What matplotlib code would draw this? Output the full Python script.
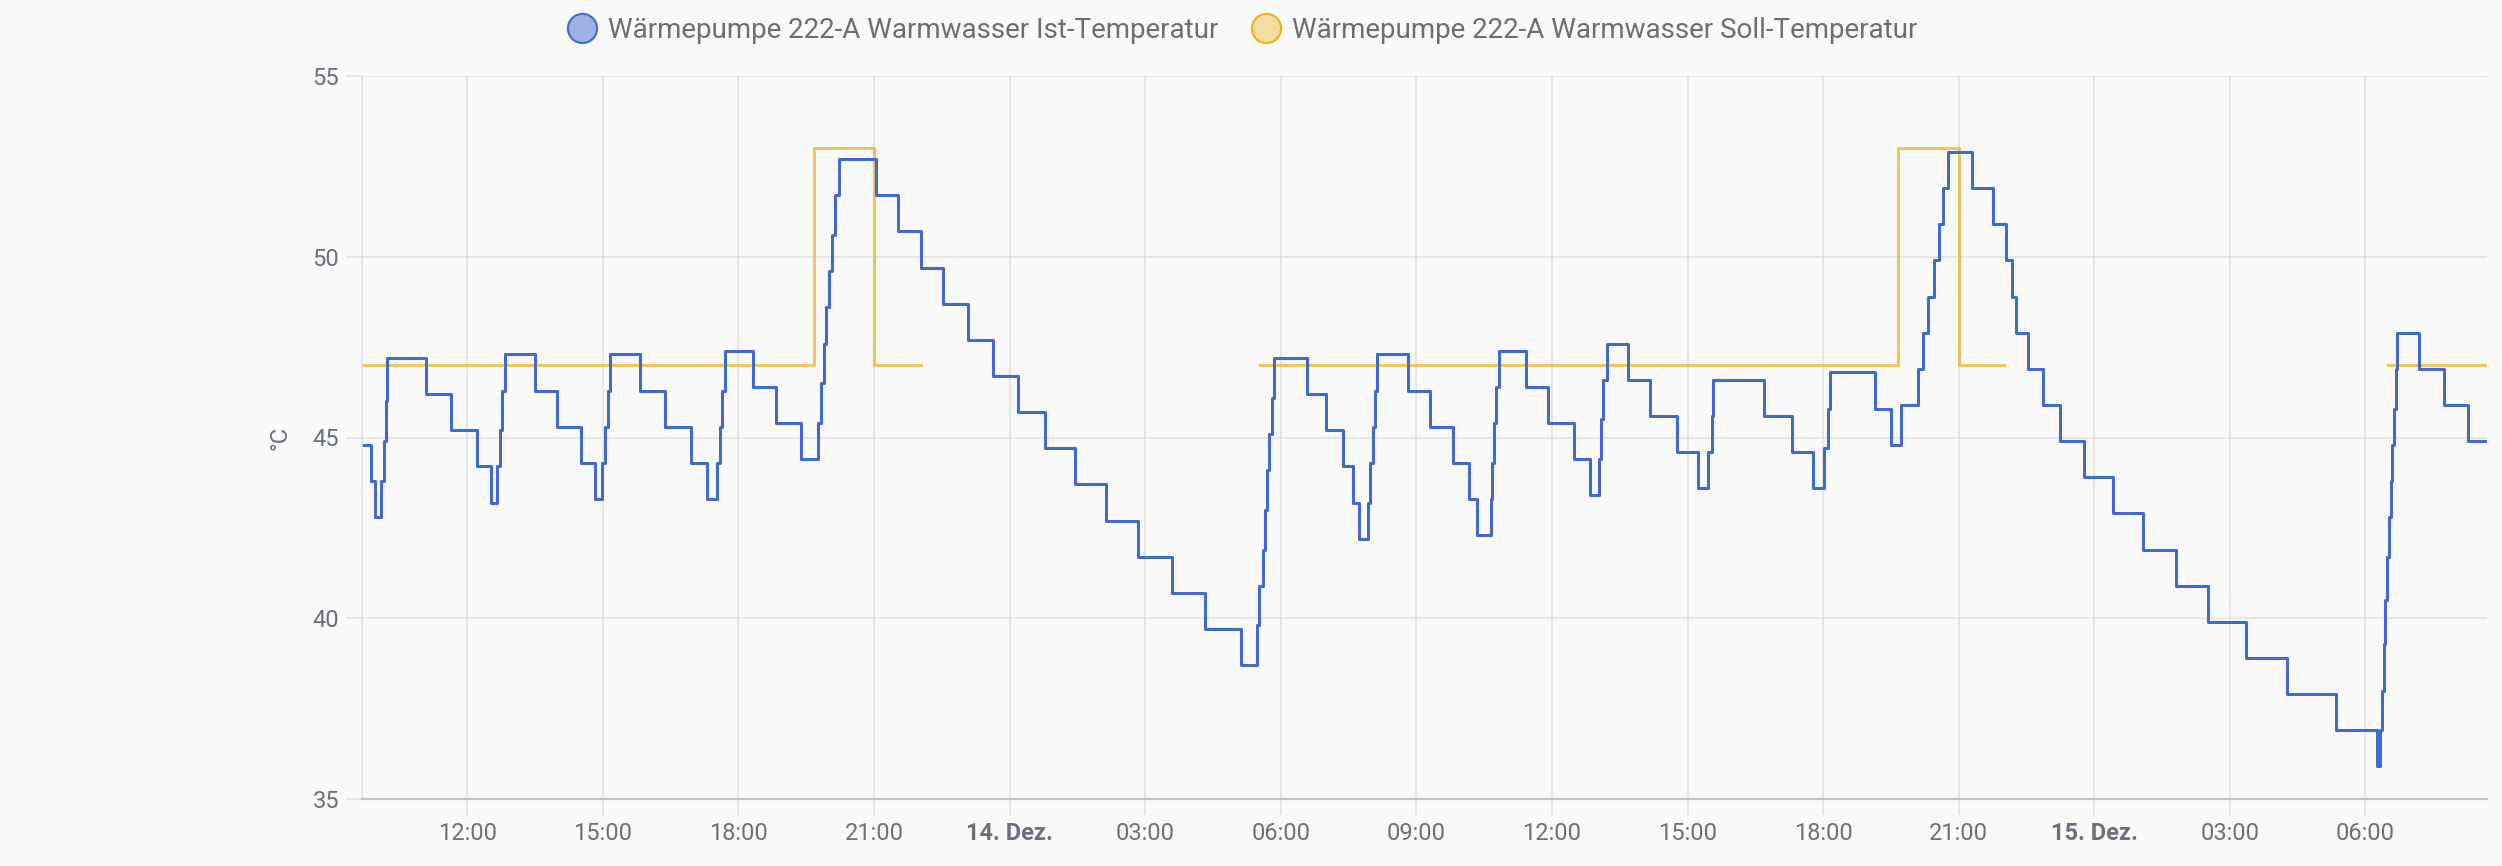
import numpy as np
import matplotlib.pyplot as plt
from matplotlib.lines import Line2D

plt.rcParams['font.family'] = ['Roboto', 'DejaVu Sans']

# hours counted from 13. Dez. 00:00
ist_hours = [9.67, 9.875, 9.948, 10.096, 10.155, 10.192, 10.221, 11.092, 11.631, 12.214,
             12.517, 12.664, 12.723, 12.768, 12.827, 13.498, 13.978, 14.509, 14.834, 14.989,
             15.048, 15.107, 15.166, 15.830, 16.369, 16.945, 17.314, 17.528, 17.587, 17.646,
             17.697, 18.325, 18.841, 19.387, 19.764, 19.823, 19.890, 19.941, 19.993, 20.059,
             20.133, 20.221, 21.048, 21.535, 22.037, 22.524, 23.070, 23.638, 24.185, 24.782,
             25.446, 26.140, 26.849, 27.594, 28.317, 29.114, 29.483, 29.528, 29.601, 29.653,
             29.705, 29.749, 29.801, 29.860, 30.590, 30.996, 31.380, 31.587, 31.720, 31.919,
             31.978, 32.030, 32.081, 32.126, 32.812, 33.300, 33.815, 34.162, 34.347, 34.642,
             34.679, 34.716, 34.768, 34.827, 35.432, 35.911, 36.487, 36.849, 37.048, 37.092,
             37.137, 37.210, 37.690, 38.177, 38.775, 39.232, 39.461, 39.535, 39.572, 40.694,
             41.306, 41.771, 42.030, 42.118, 42.162, 43.140, 43.509, 43.716, 44.100, 44.210,
             44.321, 44.454, 44.572, 44.653, 44.756, 45.303, 45.768, 46.055, 46.173, 46.269,
             46.535, 46.860, 47.236, 47.782, 48.414, 49.071, 49.803, 50.520, 51.362, 52.264,
             53.342, 54.260, 54.330, 54.362, 54.413, 54.435, 54.487, 54.524, 54.561, 54.583,
             54.635, 54.679, 54.694, 55.181, 55.734, 56.266, 56.690]
ist_values = [44.8, 43.8, 42.8, 43.8, 44.9, 46.0, 47.2, 46.2, 45.2, 44.2,
              43.2, 44.2, 45.2, 46.3, 47.3, 46.3, 45.3, 44.3, 43.3, 44.3,
              45.3, 46.3, 47.3, 46.3, 45.3, 44.3, 43.3, 44.3, 45.3, 46.3,
              47.4, 46.4, 45.4, 44.4, 45.4, 46.5, 47.6, 48.6, 49.6, 50.6,
              51.7, 52.7, 51.7, 50.7, 49.7, 48.7, 47.7, 46.7, 45.7, 44.7,
              43.7, 42.7, 41.7, 40.7, 39.7, 38.7, 39.8, 40.9, 41.9, 43.0,
              44.1, 45.1, 46.1, 47.2, 46.2, 45.2, 44.2, 43.2, 42.2, 43.2,
              44.3, 45.3, 46.3, 47.3, 46.3, 45.3, 44.3, 43.3, 42.3, 43.3,
              44.3, 45.4, 46.4, 47.4, 46.4, 45.4, 44.4, 43.4, 44.4, 45.5,
              46.6, 47.6, 46.6, 45.6, 44.6, 43.6, 44.6, 45.6, 46.6, 45.6,
              44.6, 43.6, 44.7, 45.8, 46.8, 45.8, 44.8, 45.9, 46.9, 47.9,
              48.9, 49.9, 50.9, 51.9, 52.9, 51.9, 50.9, 49.9, 48.9, 47.9,
              46.9, 45.9, 44.9, 43.9, 42.9, 41.9, 40.9, 39.9, 38.9, 37.9,
              36.9, 35.9, 36.9, 38.0, 39.3, 40.5, 41.7, 42.8, 43.8, 44.8,
              45.8, 46.9, 47.9, 46.9, 45.9, 44.9, 44.9]

soll_hours = [9.67, 19.67, 21.01, 22.03, 29.535, 43.66, 45.01, 46.01, 54.51, 56.69]
soll_values = [47, 53, 47, np.nan, 47, 53, 47, np.nan, 47, 47]

tick_hours = [12, 15, 18, 21, 24, 27, 30, 33, 36, 39, 42, 45, 48, 51, 54]
tick_labels = ['12:00', '15:00', '18:00', '21:00', '14. Dez.', '03:00', '06:00', '09:00',
               '12:00', '15:00', '18:00', '21:00', '15. Dez.', '03:00', '06:00']

ist_color = '#4269d0'
soll_color = '#efb118'
text_color = '#6e7079'
grid_color = '#e0e0e0'

fig = plt.figure(figsize=(25.02, 8.66), dpi=100, facecolor='#fafafa')
ax = fig.add_axes([362 / 2502, 1 - 799 / 866, (2487 - 362) / 2502, (799 - 76) / 866])
ax.set_facecolor('#fafafa')

# Soll first so the Ist line sits on top
ax.plot(soll_hours, soll_values, drawstyle='steps-post', color=soll_color, alpha=0.7, lw=2.2)
ax.plot(ist_hours, ist_values, drawstyle='steps-post', color=ist_color, lw=2.2)

ax.set_xlim(ist_hours[0], ist_hours[-1])
ax.set_ylim(35, 55)
ax.set_yticks([35, 40, 45, 50, 55])
ax.set_xticks(tick_hours)
ax.set_xticklabels(tick_labels)
for lab in ax.get_xticklabels():
    if 'Dez' in lab.get_text():
        lab.set_fontweight('bold')

ax.grid(True, color=grid_color, lw=1.1)
ax.set_axisbelow(True)
for side in ['top', 'right']:
    ax.spines[side].set_visible(False)
ax.spines['left'].set_color(grid_color)
ax.spines['left'].set_linewidth(1.1)
ax.spines['bottom'].set_color('#c4c4c4')
ax.spines['bottom'].set_linewidth(1.6)
ax.tick_params(length=11.5, width=1.1, color=grid_color, labelsize=17,
               labelcolor=text_color, pad=5)

ax.set_ylabel('°C', fontsize=17, color=text_color)
ax.yaxis.set_label_coords(-(362 - 291) / 2125, 0.5)

handles = [
    Line2D([], [], ls='none', marker='o', markersize=21, markeredgewidth=1.5,
           markerfacecolor=(0.259, 0.412, 0.816, 0.5), markeredgecolor=ist_color),
    Line2D([], [], ls='none', marker='o', markersize=21, markeredgewidth=1.5,
           markerfacecolor=(0.937, 0.694, 0.094, 0.4), markeredgecolor=soll_color),
]
fig.legend(handles, ['Wärmepumpe 222-A Warmwasser Ist-Temperatur',
                     'Wärmepumpe 222-A Warmwasser Soll-Temperatur'],
           loc='center', bbox_to_anchor=(1243 / 2502, 1 - 30 / 866), ncol=2,
           frameon=False, fontsize=20, labelcolor='#6e6e6e',
           handlelength=1.0, handletextpad=0.45, columnspacing=1.2)

plt.savefig('out.png', dpi=100, facecolor=fig.get_facecolor())
